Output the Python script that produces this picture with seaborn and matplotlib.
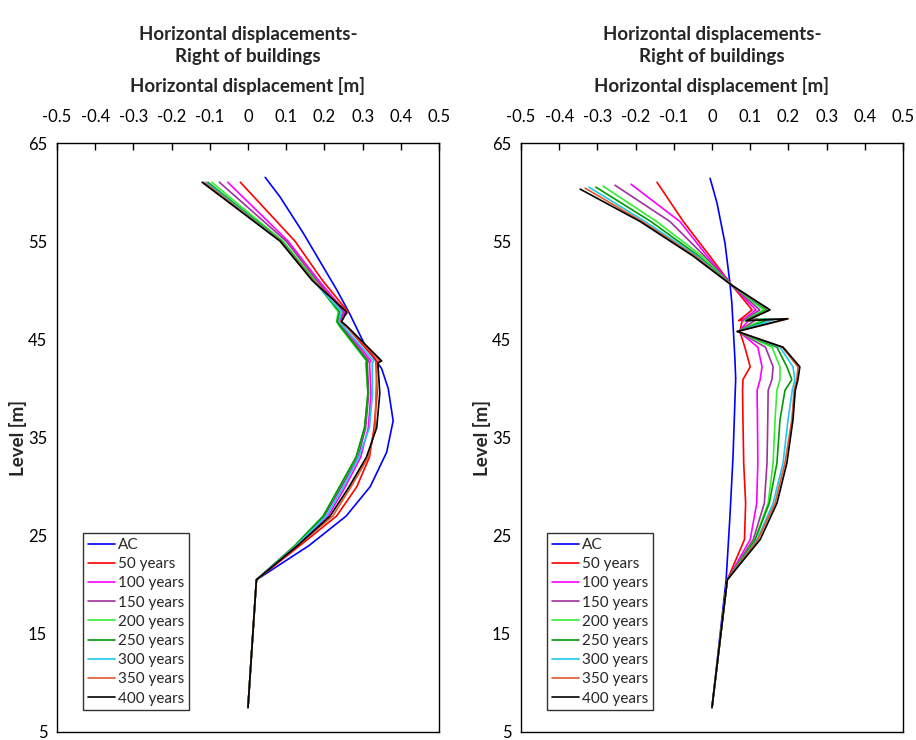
import numpy as np
import pandas as pd
import seaborn as sns
import matplotlib.pyplot as plt

# series labels and colours (same for both panels)
series_names = ['AC', '50 years', '100 years', '150 years', '200 years',
                '250 years', '300 years', '350 years', '400 years']
series_colors = ['#0000FF', '#FF0000', '#FF00FF', '#A030A0', '#33EE33',
                 '#009A00', '#1EC8F0', '#E3562A', '#000000']

x_ticks = [-0.5, -0.4, -0.3, -0.2, -0.1, 0, 0.1, 0.2, 0.3, 0.4, 0.5]
x_tick_labels = ['-0.5', '-0.4', '-0.3', '-0.2', '-0.1', '0',
                 '0.1', '0.2', '0.3', '0.4', '0.5']
y_ticks = [5, 15, 25, 35, 45, 55, 65]

# ---- left panel ----
levels_left_ac = [7.5, 20.5, 24, 27, 30, 33.5, 36.7, 40, 42, 44.5, 47.7, 50, 55.8, 59.5, 61.5]
disp_left_ac = [0, 0.022, 0.16, 0.257, 0.32, 0.363, 0.38, 0.367, 0.35, 0.305, 0.265, 0.233, 0.145, 0.084, 0.045]

levels_left = [7.5, 20.5, 24, 27, 30, 33, 36, 39.5, 42.6, 42.8, 46.3, 46.8, 47.8, 51, 55, 61]
disp_left_50 = [0, 0.022, 0.136, 0.232, 0.285, 0.318, 0.330, 0.338, 0.335, 0.337, 0.258, 0.240, 0.262, 0.195, 0.123, -0.020]
disp_left_100 = [0, 0.022, 0.128, 0.210, 0.255, 0.295, 0.315, 0.322, 0.318, 0.322, 0.250, 0.237, 0.255, 0.185, 0.105, -0.053]
disp_left_150 = [0, 0.022, 0.125, 0.200, 0.245, 0.288, 0.308, 0.316, 0.312, 0.316, 0.245, 0.235, 0.250, 0.180, 0.100, -0.075]
disp_left_200 = [0, 0.022, 0.123, 0.197, 0.240, 0.283, 0.305, 0.314, 0.308, 0.310, 0.240, 0.232, 0.236, 0.175, 0.092, -0.095]
disp_left_250 = [0, 0.022, 0.123, 0.197, 0.240, 0.283, 0.305, 0.314, 0.310, 0.312, 0.242, 0.233, 0.240, 0.172, 0.088, -0.105]
disp_left_300 = [0, 0.022, 0.126, 0.205, 0.250, 0.290, 0.318, 0.326, 0.325, 0.330, 0.250, 0.238, 0.245, 0.170, 0.086, -0.110]
disp_left_350 = [0, 0.022, 0.130, 0.222, 0.270, 0.315, 0.333, 0.335, 0.338, 0.345, 0.258, 0.243, 0.260, 0.170, 0.085, -0.115]
disp_left_400 = [0, 0.022, 0.130, 0.215, 0.265, 0.310, 0.337, 0.345, 0.340, 0.350, 0.260, 0.245, 0.258, 0.168, 0.084, -0.120]

# ---- right panel ----
levels_right_ac = [7.5, 20.5, 27, 33, 41, 43, 48.7, 50.7, 54.8, 58.9, 61.4]
disp_right_ac = [0, 0.037, 0.047, 0.055, 0.062, 0.060, 0.052, 0.047, 0.034, 0.013, -0.005]

# path goes bottom -> peak -> kinks -> top
levels_right = [7.5, 20.5, 24.6, 28.3, 32.4, 36.8, 39.8, 40.9, 42.2, 44.2, 45.8, 47.1, 46.9, 48.0, 50.5, 53.5, 57.0]
top_level_right = [61.0, 60.8, 60.7, 60.6, 60.5, 60.5, 60.4, 60.3]
disp_right_50 = [0, 0.040, 0.085, 0.088, 0.083, 0.081, 0.080, 0.081, 0.100, 0.086, 0.073, 0.080, 0.070, 0.105, 0.052, -0.006, -0.075, -0.144]
disp_right_100 = [0, 0.040, 0.100, 0.117, 0.120, 0.119, 0.118, 0.126, 0.131, 0.120, 0.070, 0.100, 0.078, 0.115, 0.052, -0.013, -0.084, -0.212]
disp_right_150 = [0, 0.040, 0.108, 0.137, 0.144, 0.146, 0.147, 0.157, 0.160, 0.140, 0.068, 0.120, 0.082, 0.125, 0.052, -0.020, -0.110, -0.254]
disp_right_200 = [0, 0.040, 0.112, 0.147, 0.160, 0.165, 0.170, 0.178, 0.178, 0.157, 0.067, 0.140, 0.085, 0.135, 0.052, -0.027, -0.145, -0.285]
disp_right_250 = [0, 0.040, 0.113, 0.150, 0.170, 0.178, 0.191, 0.209, 0.196, 0.170, 0.066, 0.155, 0.088, 0.143, 0.052, -0.035, -0.160, -0.304]
disp_right_300 = [0, 0.040, 0.118, 0.160, 0.186, 0.199, 0.210, 0.217, 0.212, 0.178, 0.066, 0.170, 0.090, 0.148, 0.052, -0.040, -0.175, -0.322]
disp_right_350 = [0, 0.040, 0.120, 0.165, 0.191, 0.209, 0.215, 0.222, 0.225, 0.184, 0.066, 0.200, 0.090, 0.150, 0.052, -0.045, -0.183, -0.332]
disp_right_400 = [0, 0.040, 0.126, 0.170, 0.196, 0.212, 0.218, 0.225, 0.230, 0.186, 0.066, 0.198, 0.090, 0.152, 0.052, -0.050, -0.188, -0.345]

TITLE = 'Horizontal displacements-\nRight of buildings'
XLABEL = 'Horizontal displacement [m]'
YLABEL = 'Level [m]'


def left_curves():
    years = [disp_left_50, disp_left_100, disp_left_150, disp_left_200,
             disp_left_250, disp_left_300, disp_left_350, disp_left_400]
    curves = [(levels_left_ac, disp_left_ac)]
    curves += [(levels_left, d) for d in years]
    return curves


def right_curves():
    years = [disp_right_50, disp_right_100, disp_right_150, disp_right_200,
             disp_right_250, disp_right_300, disp_right_350, disp_right_400]
    curves = [(levels_right_ac, disp_right_ac)]
    for top, d in zip(top_level_right, years):
        curves.append((levels_right + [top], d))
    return curves


def draw_panel(ax, curves):
    for (lev, disp), name, col in zip(curves, series_names, series_colors):
        sns.lineplot(x=disp, y=lev, ax=ax, color=col, label=name,
                     sort=False, estimator=None, lw=1.2)

    ax.set_xlim(-0.5, 0.5)
    ax.set_ylim(5, 65)
    ax.xaxis.tick_top()
    ax.xaxis.set_label_position('top')
    ax.set_xticks(x_ticks)
    ax.set_xticklabels(x_tick_labels)
    ax.set_yticks(y_ticks)
    ax.tick_params(direction='in', length=5, width=1, colors='black', labelsize=12)
    ax.tick_params(axis='x', pad=13)
    ax.tick_params(axis='y', pad=7)
    for sp in ax.spines.values():
        sp.set_visible(True)
        sp.set_color('black')
        sp.set_linewidth(1)

    ax.set_xlabel(XLABEL, fontsize=13.5, fontweight='bold', labelpad=12)
    ax.set_ylabel(YLABEL, fontsize=13.5, fontweight='bold', labelpad=1)
    ax.text(0.5, 1.1655, TITLE, transform=ax.transAxes, ha='center', va='center',
            fontsize=13.5, fontweight='bold', linespacing=1.3)

    handles, labels = ax.get_legend_handles_labels()
    leg = ax.legend(handles, labels, loc='lower left', bbox_to_anchor=(0.068, 0.037),
                    frameon=True, fancybox=False, edgecolor='black', fontsize=11,
                    handlelength=1.8, handletextpad=0.2, borderpad=0.3,
                    labelspacing=0.34, borderaxespad=0)
    leg.get_frame().set_linewidth(1)


sns.set_style('white')
plt.rcParams['font.family'] = ['Lato', 'DejaVu Sans']

fig = plt.figure(figsize=(9.16, 7.4), dpi=100)
ax_left = fig.add_axes([57 / 916, 8 / 740, 382 / 916, 589 / 740])
ax_right = fig.add_axes([521 / 916, 8 / 740, 382 / 916, 589 / 740])

draw_panel(ax_left, left_curves())
draw_panel(ax_right, right_curves())

fig.savefig('out.png', dpi=100, facecolor='white')
